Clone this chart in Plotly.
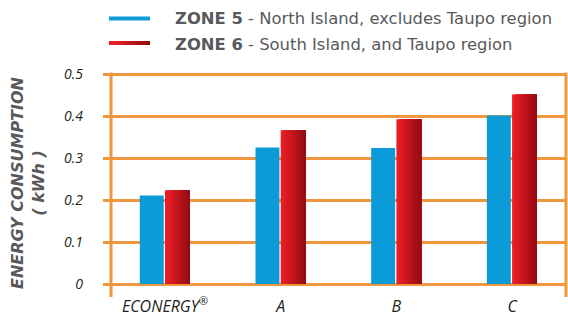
import plotly.graph_objects as go

categories = ["ECONERGY<sup>®</sup>", "A", "B", "C"]
zone5 = [0.211, 0.325, 0.324, 0.401]
zone6 = [0.223, 0.366, 0.392, 0.451]
ytick_vals = [0, 0.1, 0.2, 0.3, 0.4, 0.5]
ytick_text = ["0", "0.1", "0.2", "0.3", "0.4", "0.5"]
zone5_name = "<b>ZONE 5</b> - North Island, excludes Taupo region"
zone6_name = "<b>ZONE 6</b> - South Island, and Taupo region"
y_title = "<b><i>ENERGY CONSUMPTION<br>( kWh )</i></b>"

BLUE = "#0A9BD8"
RED_L = (236, 30, 38)
RED_R = (150, 12, 18)
ORANGE = "#F0963E"
FONT = "Open Sans"
WIDE = "DejaVu Sans"

W, H = 568, 316
L, R, T, B = 103, 2, 72, 30
pw, ph = W - L - R, H - T - B


def px_x(x):
    return (x - L) / pw


def px_y(y):
    return (H - B - y) / ph


def lerp(t):
    return "rgb(%d,%d,%d)" % tuple(int(round(RED_L[k] + (RED_R[k] - RED_L[k]) * t)) for k in range(3))


fig = go.Figure()

fig.add_trace(go.Bar(x=categories, y=zone5, name=zone5_name,
                     marker=dict(color=BLUE, line=dict(width=0)),
                     offset=-0.218, width=0.207, showlegend=False))

N = 12
r0, rw = 0.0, 0.215
for i in range(N):
    fig.add_trace(go.Bar(x=categories, y=zone6, name=zone6_name,
                         marker=dict(color=lerp(i / (N - 1)), line=dict(width=0)),
                         offset=r0 + rw * i / N, width=rw - rw * i / N, showlegend=False,
                         hoverinfo="skip" if i else None))

shapes = [
    dict(type="line", xref="paper", yref="paper", x0=px_x(111), x1=px_x(111),
         y0=px_y(297), y1=px_y(72.5), line=dict(color=ORANGE, width=3), layer="below"),
    dict(type="line", xref="paper", yref="paper", x0=px_x(566), x1=px_x(566),
         y0=px_y(297), y1=px_y(72.5), line=dict(color=ORANGE, width=3), layer="below"),
]
shapes.append(dict(type="line", xref="paper", yref="paper", x0=px_x(109), x1=px_x(150),
                   y0=px_y(18.5), y1=px_y(18.5), line=dict(color=BLUE, width=4)))
M = 10
for i in range(M):
    x0 = 109 + 41 * i / M
    x1 = 109 + 41 * (i + 1) / M + (0.5 if i < M - 1 else 0)
    shapes.append(dict(type="line", xref="paper", yref="paper", x0=px_x(x0), x1=px_x(x1),
                       y0=px_y(43), y1=px_y(43), line=dict(color=lerp(i / (M - 1)), width=4)))

legfont = dict(family=WIDE, size=16.4, color="#58595B")
annotations = [
    dict(text=zone5_name, xref="paper", yref="paper", x=px_x(173), y=px_y(19),
         xanchor="left", yanchor="middle", showarrow=False, font=legfont),
    dict(text=zone6_name, xref="paper", yref="paper", x=px_x(173), y=px_y(44),
         xanchor="left", yanchor="middle", showarrow=False, font=legfont),
    dict(text=y_title, xref="paper", yref="paper", x=px_x(28), y=px_y(183),
         xanchor="center", yanchor="middle", textangle=-90, showarrow=False,
         font=dict(family=WIDE, size=16, color="#58595B"), align="center"),
]

fig.update_layout(
    width=W, height=H, autosize=False,
    margin=dict(l=L, r=R, t=T, b=B, pad=0, autoexpand=False),
    paper_bgcolor="white", plot_bgcolor="white",
    barmode="overlay", showlegend=False,
    font=dict(family=FONT),
    xaxis=dict(type="category", categoryarray=categories, range=[-0.536, 3.466],
               showgrid=False, showline=False, zeroline=False, ticks="",
               tickfont=dict(family=FONT, size=16, color="#231F20", style="italic"),
               ticklabelstandoff=9, fixedrange=True),
    yaxis=dict(range=[-2 / 420, 0.5 + 2 / 420], tickvals=ytick_vals, ticktext=ytick_text,
               showgrid=True, gridcolor=ORANGE, gridwidth=3, zeroline=False,
               showline=False, ticks="",
               tickfont=dict(family=FONT, size=14, color="#231F20", style="italic"),
               ticklabelstandoff=19, fixedrange=True),
    shapes=shapes,
    annotations=annotations,
)

fig.write_html("out.html", config={"displayModeBar": False},
               post_script="document.body.style.margin='0';document.body.style.overflow='hidden';")
